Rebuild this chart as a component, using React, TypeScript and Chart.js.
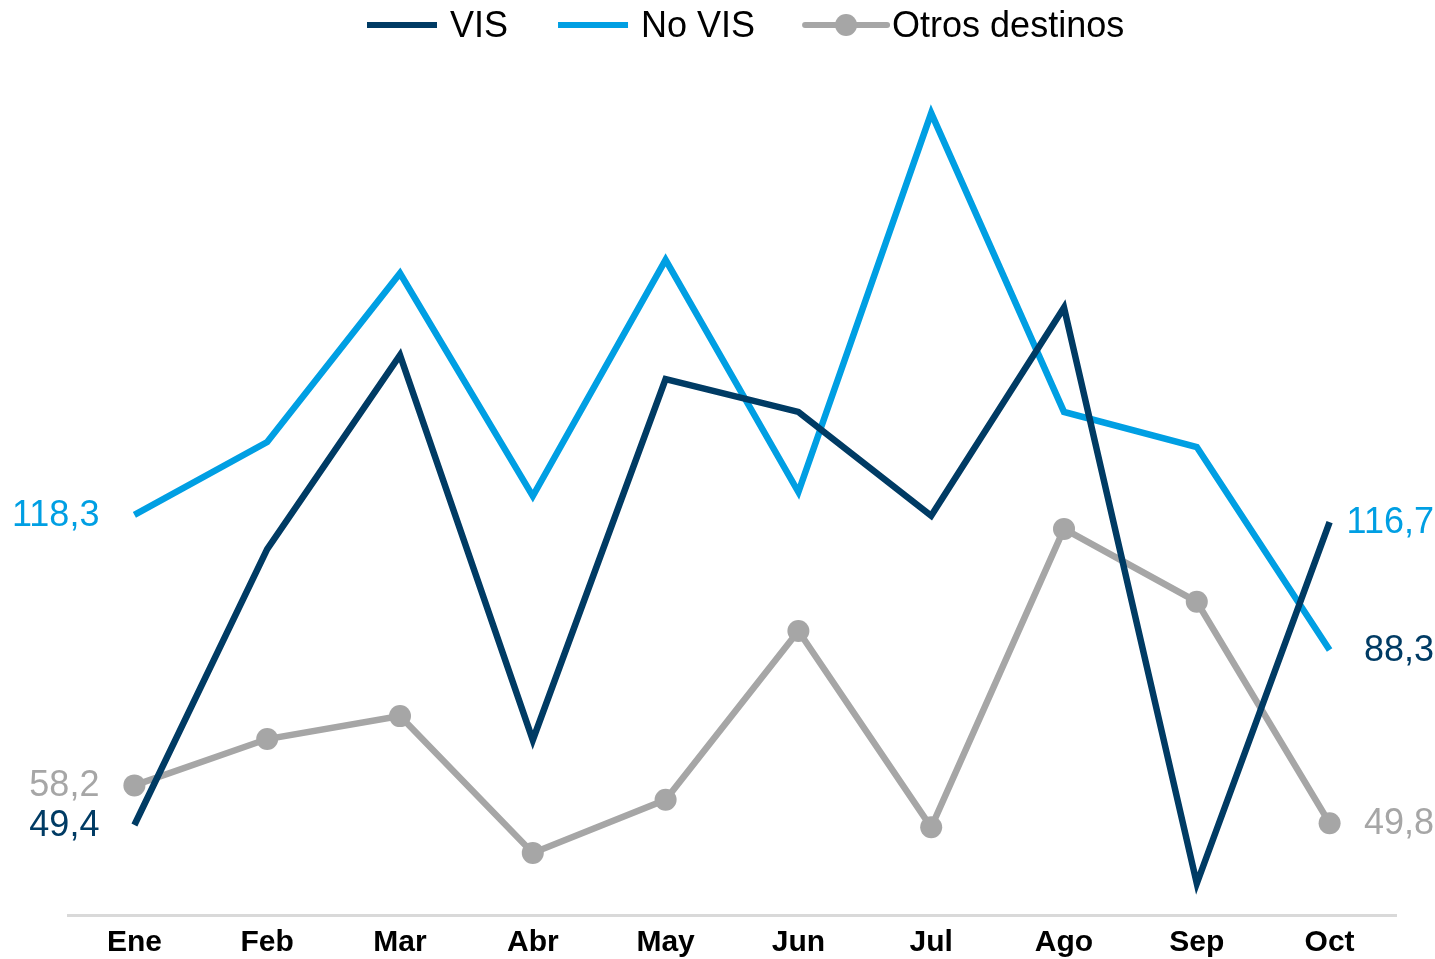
import React, { useEffect, useRef } from "react";
import { Chart, registerables } from "chart.js";

Chart.register(...registerables);

const months = ["Ene", "Feb", "Mar", "Abr", "May", "Jun", "Jul", "Ago", "Sep", "Oct"];
const visValues = [49.4, 110.7, 153.8, 68.3, 148.5, 141.2, 118.1, 164.4, 36.4, 116.7];
const noVisValues = [118.3, 134.5, 172.0, 122.5, 175.0, 123.4, 207.6, 141.2, 133.4, 88.3];
const otrosValues = [58.2, 68.5, 73.6, 43.2, 55.0, 92.5, 48.9, 115.2, 99.0, 49.8];
const seriesNames = ["VIS", "No VIS", "Otros destinos"];

const NAVY = "#003B64";
const LIGHT = "#009FE3";
const GRAY = "#A6A6A6";
const seriesColors = [NAVY, LIGHT, GRAY];
const endLabelColors = [LIGHT, NAVY, GRAY];

const FONT = "'Liberation Sans', Arial, sans-serif";

const fmt = (v: number) => v.toFixed(1).replace(".", ",");

const endLabelsPlugin = {
  id: "endLabels",
  afterDatasetsDraw(chart: any) {
    const ctx = chart.ctx;
    ctx.save();
    ctx.font = `36px ${FONT}`;
    ctx.textBaseline = "middle";
    ctx.textAlign = "right";
    chart.data.datasets.forEach((ds: any, i: number) => {
      const meta = chart.getDatasetMeta(i);
      const pts = meta.data;
      const first = pts[0];
      const last = pts[pts.length - 1];
      ctx.fillStyle = seriesColors[i];
      ctx.fillText(fmt(ds.data[0]), first.x - 35, first.y + 1);
      ctx.fillStyle = endLabelColors[i];
      ctx.fillText(fmt(ds.data[ds.data.length - 1]), chart.width - 1, last.y + 1);
    });
    ctx.restore();
  },
};

const legendPlugin = {
  id: "customLegend",
  afterDraw(chart: any) {
    const ctx = chart.ctx;
    ctx.save();
    ctx.font = `36px ${FONT}`;
    ctx.textBaseline = "middle";
    ctx.textAlign = "left";
    const y = 25;
    let x = 367;
    chart.data.datasets.forEach((ds: any) => {
      const hasPoint = (ds.pointRadius || 0) > 0;
      const sw = hasPoint ? 82 : 70;
      ctx.strokeStyle = ds.borderColor;
      ctx.lineWidth = 6;
      ctx.lineCap = hasPoint ? "round" : "butt";
      ctx.beginPath();
      ctx.moveTo(x, y);
      ctx.lineTo(x + sw, y);
      ctx.stroke();
      if (hasPoint) {
        ctx.fillStyle = ds.borderColor;
        ctx.beginPath();
        ctx.arc(x + sw / 2, y, 11, 0, Math.PI * 2);
        ctx.fill();
      }
      const tx = x + sw + (hasPoint ? 5 : 13);
      ctx.fillStyle = "#000";
      ctx.fillText(ds.label, tx, y + 2);
      x = tx + ctx.measureText(ds.label).width + 50;
    });
    ctx.restore();
  },
};

export default function App() {
  const canvasRef = useRef<HTMLCanvasElement | null>(null);

  useEffect(() => {
    document.body.style.margin = "0";
    const canvas = canvasRef.current;
    if (!canvas) return;
    const chart = new Chart(canvas, {
      type: "line",
      data: {
        labels: months,
        datasets: [
          {
            label: seriesNames[0],
            data: visValues,
            borderColor: NAVY,
            backgroundColor: NAVY,
            borderWidth: 6.5,
            pointRadius: 0,
            tension: 0,
          },
          {
            label: seriesNames[1],
            data: noVisValues,
            borderColor: LIGHT,
            backgroundColor: LIGHT,
            borderWidth: 6.5,
            pointRadius: 0,
            tension: 0,
          },
          {
            label: seriesNames[2],
            data: otrosValues,
            borderColor: GRAY,
            backgroundColor: GRAY,
            borderWidth: 6.5,
            pointRadius: 11,
            pointBorderWidth: 0,
            pointBackgroundColor: GRAY,
            tension: 0,
          },
        ],
      },
      options: {
        animation: false,
        responsive: false,
        maintainAspectRatio: false,
        layout: { padding: { top: 60, left: 68, right: 39, bottom: -12 } },
        plugins: {
          legend: { display: false },
          tooltip: { enabled: false },
        },
        scales: {
          x: {
            offset: true,
            grid: { display: false, drawTicks: false },
            border: { display: true, color: "#D9D9D9", width: 3 },
            ticks: {
              color: "#000",
              padding: 10,
              font: { family: FONT, size: 30, weight: "bold" },
              maxRotation: 0,
            },
          },
          y: {
            display: false,
            min: 29.4,
            max: 219.4,
          },
        },
      },
      plugins: [endLabelsPlugin, legendPlugin],
    });
    return () => chart.destroy();
  }, []);

  return (
    <div style={{ width: 1435, height: 959 }}>
      <canvas ref={canvasRef} width={1435} height={959} style={{ display: "block" }} />
    </div>
  );
}
